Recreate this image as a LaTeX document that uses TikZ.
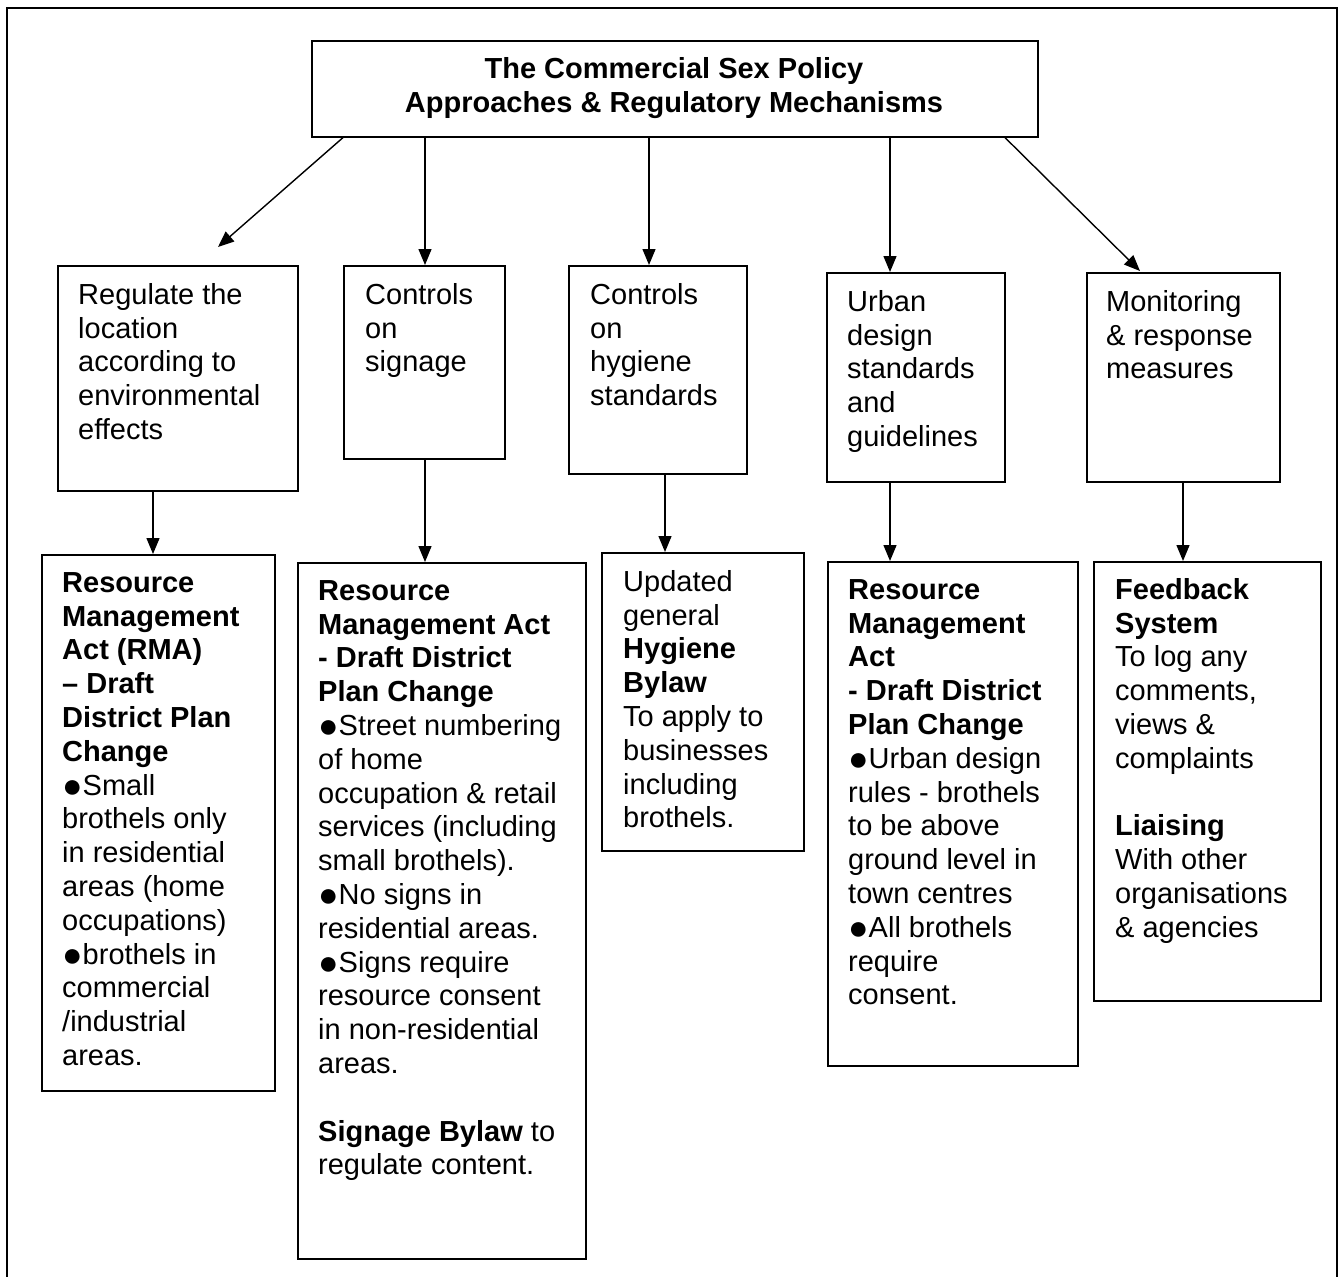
\documentclass[tikz,border=0pt]{standalone}
\usepackage{fontspec}
\setmainfont{Liberation Sans}
\usetikzlibrary{arrows.meta,calc}
\newcommand\blt{\raisebox{-2pt}{\fontsize{34}{34}\selectfont ●}}
\begin{document}
\begin{tikzpicture}[x=1pt,y=-1pt,
 box/.style={draw,line width=1.6pt,rectangle,anchor=north west,inner sep=0pt},
 txt/.style={anchor=north west,inner sep=0pt,align=left,font=\fontsize{29}{33.8}\selectfont},
 arr/.style={line width=1.4pt,-{Triangle[length=16pt,width=13pt]}}]
\useasboundingbox (0,0) rectangle (1342,1277);
\fill[white] (0,0) rectangle (1342,1277);
\draw[line width=2pt] (7,1277) -- (7,8) -- (1337,8) -- (1337,1277);

% boxes
\node[box,minimum width=726pt,minimum height=96pt] (title) at (311,40) {};
\node[box,minimum width=240pt,minimum height=225pt] (a2) at (57,265) {};
\node[box,minimum width=161pt,minimum height=193pt] (b2) at (343,265) {};
\node[box,minimum width=178pt,minimum height=208pt] (c2) at (568,265) {};
\node[box,minimum width=178pt,minimum height=209pt] (d2) at (826,272) {};
\node[box,minimum width=193pt,minimum height=209pt] (e2) at (1086,272) {};
\node[box,minimum width=233pt,minimum height=536pt] (a3) at (41,554) {};
\node[box,minimum width=288pt,minimum height=696pt] (b3) at (297,562) {};
\node[box,minimum width=202pt,minimum height=298pt] (c3) at (601,552) {};
\node[box,minimum width=250pt,minimum height=504pt] (d3) at (827,561) {};
\node[box,minimum width=227pt,minimum height=439pt] (e3) at (1093,561) {};

% texts
\node[txt,anchor=north,align=center,font=\bfseries\fontsize{29}{34}\selectfont] (titlet) at (674,54.2)
 {\strut The Commercial Sex Policy\\Approaches \& Regulatory Mechanisms};
\node[txt] (a2t) at (78,280.4) {\strut Regulate the\\location\\according to\\environmental\\effects};
\node[txt] (b2t) at (365,280.4) {\strut Controls\\on\\signage};
\node[txt] (c2t) at (590,280.4) {\strut Controls\\on\\hygiene\\standards};
\node[txt] (d2t) at (847,287.4) {\strut Urban\\design\\standards\\and\\guidelines};
\node[txt] (e2t) at (1106,287.4) {\strut Monitoring\\\& response\\measures};

\node[txt] (a3t) at (62,568.4) {\strut\textbf{Resource}\\\textbf{Management}\\\textbf{Act (RMA)}\\\textbf{– Draft}\\\textbf{District Plan}\\\textbf{Change}\\\blt Small\\brothels only\\in residential\\areas (home\\occupations)\\\blt brothels in\\commercial\\/industrial\\areas.};
\node[txt] (b3t) at (318,576.4) {\strut\textbf{Resource}\\\textbf{Management Act}\\\textbf{- Draft District}\\\textbf{Plan Change}\\\blt Street numbering\\of home\\occupation \& retail\\services (including\\small brothels).\\\blt No signs in\\residential areas.\\\blt Signs require\\resource consent\\in non-residential\\areas.\\[33.8pt]\textbf{Signage Bylaw} to\\regulate content.};
\node[txt] (c3t) at (623,567.4) {\strut Updated\\general\\\textbf{Hygiene}\\\textbf{Bylaw}\\To apply to\\businesses\\including\\brothels.};
\node[txt] (d3t) at (848,575.4) {\strut\textbf{Resource}\\\textbf{Management}\\\textbf{Act}\\\textbf{- Draft District}\\\textbf{Plan Change}\\\blt Urban design\\rules - brothels\\to be above\\ground level in\\town centres\\\blt All brothels\\require\\consent.};
\node[txt] (e3t) at (1115,575.4) {\strut\textbf{Feedback}\\\textbf{System}\\To log any\\comments,\\views \&\\complaints\\[33.8pt]\textbf{Liaising}\\With other\\organisations\\\& agencies};

% arrow helper coordinates
\coordinate (xa) at (343,0);
\coordinate (a2tip) at (218,247);
\coordinate (xb) at (425,0);
\coordinate (xc) at (649,0);
\coordinate (xd) at (890,0);
\coordinate (xe) at (1005,0);
\coordinate (e2tip) at (1140,271);
\coordinate (xa3) at (153,0);
\coordinate (xc3) at (665,0);
\coordinate (xe3) at (1183,0);

\draw[arr] (title.south -| xa) -- (a2tip);
\draw[arr] (title.south -| xb) -- (b2.north -| xb);
\draw[arr] (title.south -| xc) -- (c2.north -| xc);
\draw[arr] (title.south -| xd) -- (d2.north -| xd);
\draw[arr] (title.south -| xe) -- (e2tip);

\draw[arr] (a2.south -| xa3) -- (a3.north -| xa3);
\draw[arr] (b2.south -| xb) -- (b3.north -| xb);
\draw[arr] (c2.south -| xc3) -- (c3.north -| xc3);
\draw[arr] (d2.south -| xd) -- (d3.north -| xd);
\draw[arr] (e2.south -| xe3) -- (e3.north -| xe3);
\end{tikzpicture}
\end{document}
